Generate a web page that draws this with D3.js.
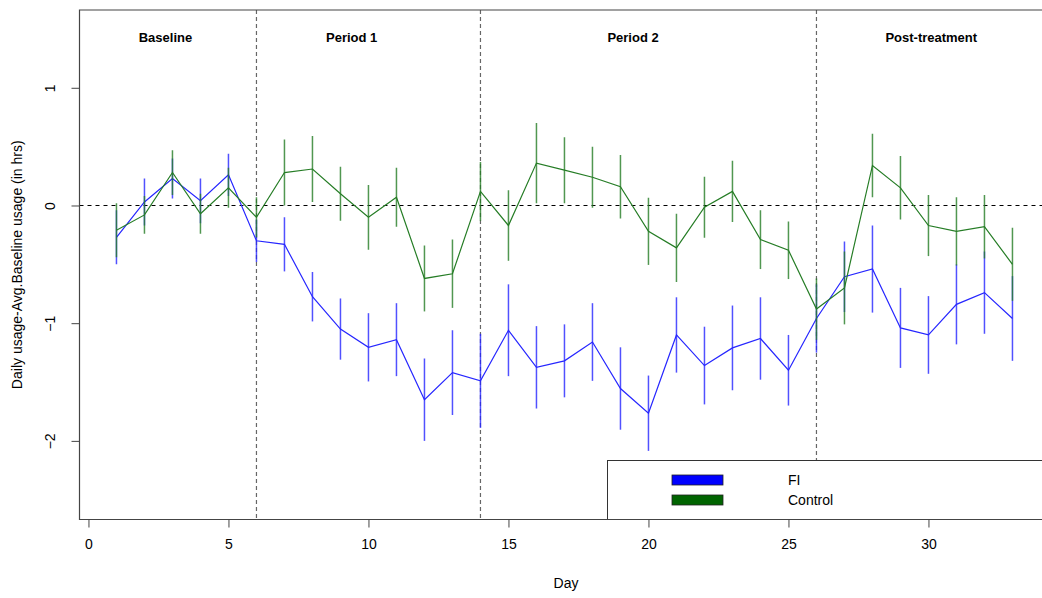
<!DOCTYPE html>
<html><head><meta charset="utf-8">
<script src="https://cdn.jsdelivr.net/npm/d3@7"></script>
<style>body{margin:0;background:#fff;} svg{display:block;font-family:"Liberation Sans",Arial,sans-serif;}</style>
</head><body>
<svg id="c" width="1042" height="598"></svg>
<script>
const days = d3.range(1, 34);
const fiMean = [-0.27,0.03,0.23,0.04,0.26,-0.30,-0.33,-0.775,-1.05,-1.205,-1.14,-1.65,-1.42,-1.49,-1.06,-1.375,-1.32,-1.16,-1.555,-1.765,-1.10,-1.36,-1.21,-1.13,-1.40,-0.96,-0.605,-0.54,-1.04,-1.10,-0.84,-0.74,-0.96];
const fiErr = [0.23,0.20,0.17,0.19,0.18,0.18,0.23,0.21,0.26,0.29,0.31,0.35,0.36,0.40,0.39,0.35,0.31,0.33,0.35,0.32,0.32,0.33,0.36,0.35,0.30,0.29,0.30,0.37,0.34,0.33,0.34,0.35,0.36];
const ctlMean = [-0.21,-0.08,0.28,-0.07,0.15,-0.10,0.28,0.31,0.10,-0.10,0.07,-0.62,-0.58,0.12,-0.17,0.36,0.30,0.24,0.16,-0.22,-0.36,-0.015,0.12,-0.29,-0.38,-0.88,-0.70,0.34,0.15,-0.17,-0.22,-0.18,-0.50];
const ctlErr = [0.23,0.16,0.19,0.17,0.17,0.17,0.28,0.28,0.23,0.275,0.25,0.28,0.29,0.25,0.30,0.34,0.28,0.26,0.27,0.285,0.29,0.26,0.26,0.25,0.245,0.26,0.31,0.27,0.27,0.26,0.29,0.27,0.31];
const periodBreaks = [6, 14, 26];
const periodLabels = ["Baseline", "Period 1", "Period 2", "Post-treatment"];
const periodLabelX = [2.75, 9.4, 19.45, 30.1];
const xTicks = [0, 5, 10, 15, 20, 25, 30];
const yTicks = [-2, -1, 0, 1];
const seriesNames = ["FI", "Control"];
const seriesColors = ["#0000ff", "#006400"];
const lineColors = ["#2626ff", "#267d26"];

const svg = d3.select("#c");
const L = 79.5, R = 1052.5, T = 10, B = 519.5;
const x = d3.scaleLinear().domain([-0.32, 34.43]).range([L, R]);
const y = d3.scaleLinear().domain([-2.668, 1.661]).range([B, T]);

svg.append("defs").append("clipPath").attr("id","clip")
  .append("rect").attr("x",L).attr("y",T).attr("width",R-L).attr("height",B-T);
const plot = svg.append("g").attr("clip-path","url(#clip)");

plot.append("line").attr("x1",L).attr("x2",R).attr("y1",y(0)).attr("y2",y(0))
  .attr("stroke","#000").attr("stroke-width",1.2).attr("stroke-dasharray","4,4");
plot.selectAll(".vb").data(periodBreaks).join("line")
  .attr("x1",d=>x(d)).attr("x2",d=>x(d)).attr("y1",T).attr("y2",B)
  .attr("stroke","#666").attr("stroke-width",1.2).attr("stroke-dasharray","4,3");

svg.selectAll(".pl").data(periodLabels).join("text")
  .attr("x",(d,i)=>x(periodLabelX[i])).attr("y",42)
  .attr("text-anchor","middle").attr("font-weight","bold").attr("font-size",13)
  .attr("fill","#000").text(d=>d);

const line = d3.line().x((d,i)=>x(days[i])).y(d=>y(d));
const series = [[fiMean, fiErr], [ctlMean, ctlErr]];
series.forEach(([m, e], s) => {
  const col = lineColors[s];
  plot.append("path").datum(m).attr("d", line).attr("fill","none")
    .attr("stroke", col).attr("stroke-width", 1.2);
  plot.selectAll(".eb"+s).data(m).join("line")
    .attr("x1",(d,i)=>x(days[i])).attr("x2",(d,i)=>x(days[i]))
    .attr("y1",(d,i)=>y(d+e[i])).attr("y2",(d,i)=>y(d-e[i]))
    .attr("stroke", col).attr("stroke-opacity",0.8).attr("stroke-width",1.5);
});

const lg = svg.append("g");
lg.append("rect").attr("x",607.5).attr("y",460.5).attr("width",500).attr("height",B-460.5)
  .attr("fill","#fff").attr("stroke","#333").attr("stroke-width",1);
seriesNames.forEach((n,i)=>{
  lg.append("rect").attr("x",672).attr("y",475+i*20).attr("width",51).attr("height",10)
    .attr("fill",seriesColors[i]).attr("stroke","#222").attr("stroke-width",0.8);
  lg.append("text").attr("x",788).attr("y",485+i*20).attr("font-size",14).attr("fill","#000").text(n);
});

svg.append("path").attr("d",`M${R},${T}H${L}V${B}H${R}`).attr("fill","none")
  .attr("stroke","#444").attr("stroke-width",1.2);

const xa = svg.append("g").attr("transform",`translate(0,${B})`)
  .call(d3.axisBottom(x).tickValues(xTicks).tickSize(8).tickPadding(12).tickSizeOuter(0));
xa.select(".domain").remove();
xa.selectAll("line").attr("stroke","#444");
xa.selectAll("text").attr("font-size",14).attr("fill","#000").attr("font-family","Liberation Sans, Arial, sans-serif");

const ya = svg.append("g").attr("transform",`translate(${L},0)`)
  .call(d3.axisLeft(y).tickValues(yTicks).tickSize(8).tickFormat(d3.format("d")));
ya.select(".domain").remove();
ya.selectAll("line").attr("stroke","#444");
ya.selectAll("text").remove();
ya.selectAll(".tick").append("text")
  .attr("transform","translate(-29,0) rotate(-90)")
  .attr("text-anchor","middle").attr("dy","0.35em")
  .attr("font-size",14).attr("fill","#000").attr("font-family","Liberation Sans, Arial, sans-serif")
  .text(d=>d3.format("d")(d));

svg.append("text").attr("x",(L+R)/2).attr("y",588).attr("text-anchor","middle")
  .attr("font-size",14).attr("fill","#000").text("Day");
svg.append("text").attr("transform",`translate(22,${(T+B)/2}) rotate(-90)`)
  .attr("text-anchor","middle").attr("font-size",14).attr("fill","#000")
  .text("Daily usage-Avg.Baseline usage (in hrs)");
</script>
</body></html>
